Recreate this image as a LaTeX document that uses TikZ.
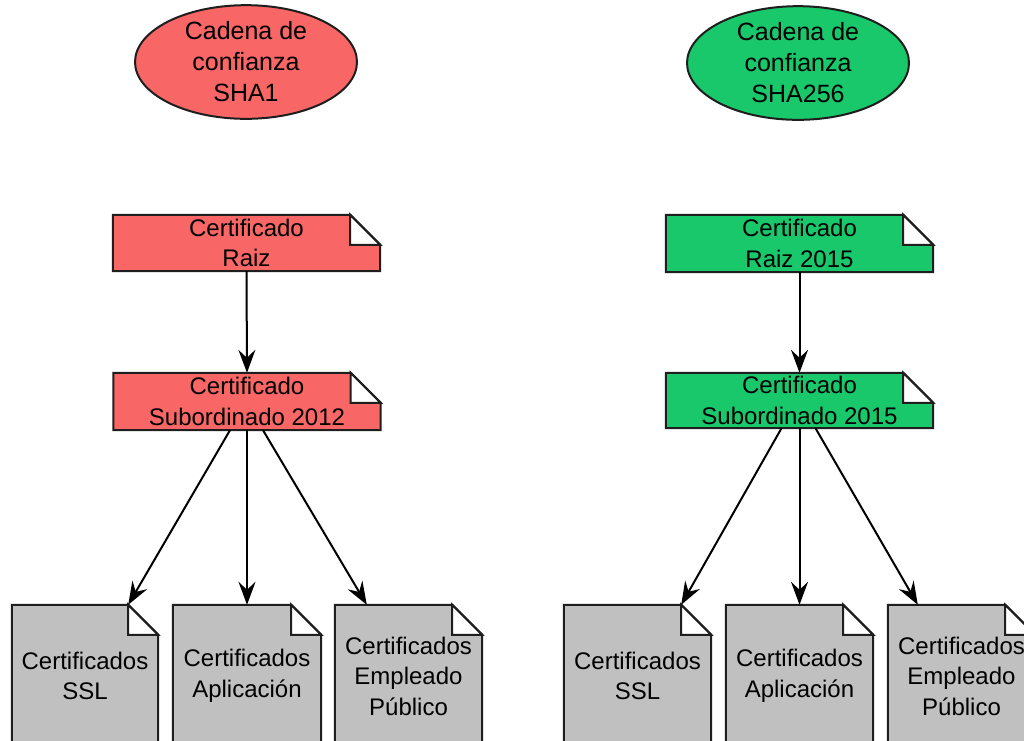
\documentclass[tikz,border=0pt]{standalone}
\usepackage{fontspec}
\setmainfont{Liberation Sans}
\usetikzlibrary{arrows.meta,calc,backgrounds,shapes.geometric}
\definecolor{redfill}{RGB}{248,102,102}
\definecolor{greenfill}{RGB}{24,200,106}
\definecolor{grayfill}{RGB}{192,192,192}
\definecolor{outl}{RGB}{30,30,30}
\newcommand\docshape[2]{%
  \filldraw[fill=#2, draw=outl, line width=2pt, line join=miter]
    (#1.north west) -- ($(#1.north east)+(-30,0)$) -- ($(#1.north east)+(0,30)$)
    -- (#1.south east) -- (#1.south west) -- cycle;
  \filldraw[fill=white, draw=outl, line width=2pt]
    ($(#1.north east)+(-30,0)$) -- ($(#1.north east)+(-30,30)$) -- ($(#1.north east)+(0,30)$) -- cycle;
}
\tikzset{
  bigtip/.tip={Stealth[length=23pt,width=17pt,inset=8pt]},
  conn/.style={draw=black, line width=2pt, -bigtip}
}
\begin{document}
\begin{tikzpicture}[x=1pt,y=-1pt,
  txt/.style={font=\fontsize{24}{30.5}\selectfont, align=center, text=black, inner sep=0pt},
  docbox/.style={txt, draw=none, minimum width=#1, shape=rectangle},
  chain/.style={txt, ellipse, draw=outl, line width=2pt, minimum width=222pt, minimum height=100pt, inner sep=0pt, font=\fontsize{25}{31}\selectfont}
]
\useasboundingbox (0,0) rectangle (1024,740);
\clip (0,0) rectangle (1024,740);

% ellipses
\node[chain, fill=redfill] (e1) at (246,62) {Cadena de\\confianza\\SHA1};
\node[chain, fill=greenfill] (e2) at (798,63) {Cadena de\\confianza\\SHA256};

% top documents
\node[docbox=267pt, minimum height=56pt] (r1) at (246.5,243) {Certificado\\Raiz};
\node[docbox=267pt, minimum height=57pt] (s1) at (247,401.5) {Certificado\\Subordinado 2012};
\node[docbox=267pt, minimum height=57pt] (r2) at (799.5,243.5) {Certificado\\Raiz 2015};
\node[docbox=267pt, minimum height=55pt] (s2) at (799.5,400.5) {Certificado\\Subordinado 2015};

% bottom documents
\node[docbox=146pt, minimum height=142pt] (a1) at (85,676) {Certificados\\SSL};
\node[docbox=148pt, minimum height=142pt] (b1) at (247,676) {Certificados\\Aplicación};
\node[docbox=147pt, minimum height=142pt] (c1) at (408.5,676) {Certificados\\Empleado\\Público};
\node[docbox=147pt, minimum height=142pt] (a2) at (637.5,676) {Certificados\\SSL};
\node[docbox=147pt, minimum height=142pt] (b2) at (799.5,676) {Certificados\\Aplicación};
\node[docbox=147pt, minimum height=142pt] (c2) at (961.5,676) {Certificados\\Empleado\\Público};

\begin{scope}[on background layer]
  \docshape{r1}{redfill}
  \docshape{s1}{redfill}
  \docshape{r2}{greenfill}
  \docshape{s2}{greenfill}
  \docshape{a1}{grayfill}
  \docshape{b1}{grayfill}
  \docshape{c1}{grayfill}
  \docshape{a2}{grayfill}
  \docshape{b2}{grayfill}
  \docshape{c2}{grayfill}
\end{scope}

% connectors
\draw[conn] (r1.south) -- (s1.north);
\draw[conn] ($(s1.south)+(-17,0)$) -- ($(a1.north east)+(-30,0)$);
\draw[conn] (s1.south) -- (b1.north);
\draw[conn] ($(s1.south)+(16,0)$) -- ($(c1.north west)+(32,0)$);
\draw[conn] (r2.south) -- (s2.north);
\draw[conn] ($(s2.south)+(-18,0)$) -- ($(a2.north east)+(-30,0)$);
\draw[conn] (s2.south) -- (b2.north);
\draw[conn] ($(s2.south)+(16,0)$) -- ($(c2.north west)+(30,0)$);
\end{tikzpicture}
\end{document}
